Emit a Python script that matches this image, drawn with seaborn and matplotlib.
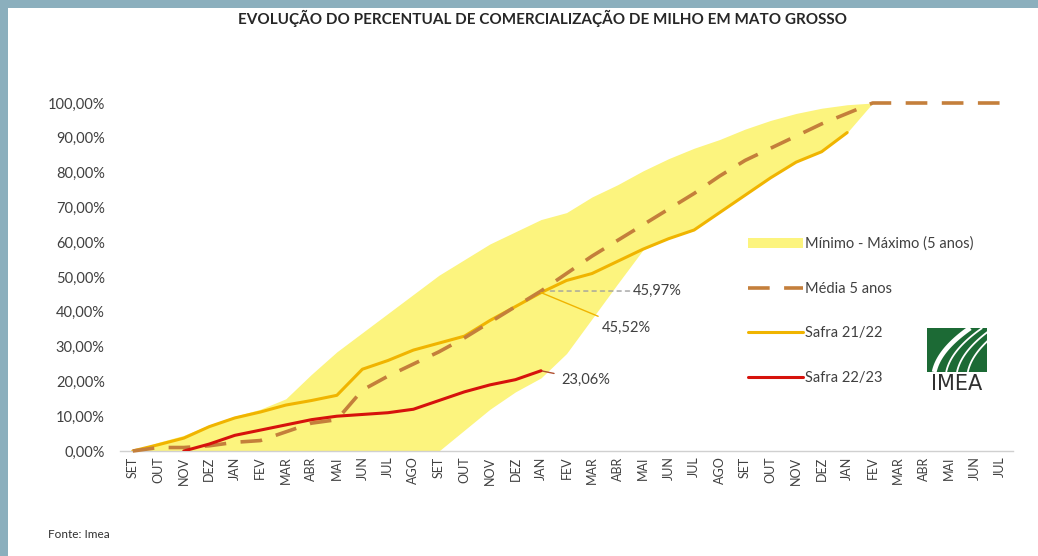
import numpy as np
import pandas as pd
import seaborn as sns
import matplotlib.pyplot as plt
from matplotlib.patches import Rectangle

# months, SET (year 1) to JUL (year 3)
meses = ["SET", "OUT", "NOV", "DEZ", "JAN", "FEV", "MAR", "ABR", "MAI", "JUN", "JUL", "AGO",
         "SET", "OUT", "NOV", "DEZ", "JAN", "FEV", "MAR", "ABR", "MAI", "JUN", "JUL", "AGO",
         "SET", "OUT", "NOV", "DEZ", "JAN", "FEV", "MAR", "ABR", "MAI", "JUN", "JUL"]

# min - max band (5 years)
minimo = [0, 0, 0, 0, 0, 0, 0, 0, 0, 0, 0, 0,
          0, 6, 12, 17, 21, 28, 38, 48, 57.8, 61, 63.5, 68.5,
          73.5, 78.5, 83, 86, 91.5, 100, 100, 100, 100, 100, 100]
maximo = [0, 2.5, 4.5, 7.5, 10, 12, 15, 22, 28.5, 34, 39.5, 45,
          50.5, 55, 59.5, 63, 66.5, 68.5, 73, 76.5, 80.5, 84, 87, 89.5,
          92.5, 95, 97, 98.5, 99.5, 100, 100, 100, 100, 100, 100]

# 5 year average
media = [0, 1, 1, 1.5, 2.5, 3, 5.5, 8, 9, 17.5, 21.5, 25,
         28.5, 32.5, 37, 41.5, 45.97, 51, 56, 60.5, 65, 69.5, 74, 79,
         83.5, 87, 90.5, 94, 97, 100, 100, 100, 100, 100, 100]

# Safra 21/22 (ends JAN)
safra_2122 = [0, 1.8, 3.7, 7, 9.5, 11.2, 13.2, 14.5, 16, 23.5, 26, 29,
              31, 33, 37.5, 41.5, 45.52, 49, 51, 54.5, 58, 61, 63.5, 68.5,
              73.5, 78.5, 83, 86, 91.5]

# Safra 22/23 (starts NOV, ends JAN)
safra_2223 = [0, 2, 4.5, 6, 7.5, 9, 10, 10.5, 11, 12,
              14.5, 17, 19, 20.5, 23.06]

idx = np.arange(len(meses))
df_media = pd.DataFrame({"x": idx, "y": media})
df_21 = pd.DataFrame({"x": idx[:len(safra_2122)], "y": safra_2122})
df_22 = pd.DataFrame({"x": idx[2:2 + len(safra_2223)], "y": safra_2223})

sns.set_theme(style="white")
plt.rcParams['font.family'] = ['Lato', 'DejaVu Sans']

fig = plt.figure(figsize=(10.38, 5.56), dpi=100, facecolor="#8bafbd")
fig.patches.append(Rectangle((8 / 1038, 0), 1, 1 - 8 / 556, transform=fig.transFigure,
                             facecolor="white", edgecolor="none", zorder=-10))

ax = fig.add_axes([120 / 1038, (556 - 451) / 556, 893 / 1038, 348 / 556])
ax.set_facecolor("none")

c_band = "#fcf47e"
c_media = "#c47f3b"
c_21 = "#f0b400"
c_22 = "#d6120c"

ax.fill_between(idx, minimo, maximo, color=c_band, lw=0, label="Mínimo - Máximo (5 anos)", zorder=1)
sns.lineplot(data=df_media, x="x", y="y", ax=ax, color=c_media, lw=2.6, dashes=False,
             label="Média 5 anos", zorder=3, clip_on=False)
ax.lines[-1].set_dashes([6, 4])
sns.lineplot(data=df_21, x="x", y="y", ax=ax, color=c_21, lw=2.2, label="Safra 21/22", zorder=2)
sns.lineplot(data=df_22, x="x", y="y", ax=ax, color=c_22, lw=2.2, label="Safra 22/23", zorder=4)

ax.set_xlim(-0.5, len(meses) - 0.5)
ax.set_ylim(0, 100)
ax.set_xticks(idx)
ax.set_xticklabels(meses, rotation=90, fontsize=9, color="#404040")
yt = np.arange(0, 101, 10)
ax.set_yticks(yt)
ax.set_yticklabels([f"{v:.2f}".replace(".", ",") + "%" for v in yt], fontsize=10.5, color="#404040")
ax.tick_params(axis="y", pad=11, length=0)
ax.tick_params(axis="x", pad=4, length=0)
ax.set_xlabel("")
ax.set_ylabel("")
for s in ["top", "right", "left"]:
    ax.spines[s].set_visible(False)
ax.spines["bottom"].set_color("#d0d0d0")
ax.spines["bottom"].set_linewidth(1)

# annotations at current month (JAN)
cur = 16
ax.annotate("45,97%", xy=(cur, media[cur]), xytext=(cur + 3.6, media[cur]), va="center",
            fontsize=10.5, color="#404040",
            arrowprops=dict(arrowstyle="-", color="#a0a0a0", lw=1, ls=(0, (3, 3)), shrinkA=0, shrinkB=4))
ax.annotate("45,52%", xy=(cur, safra_2122[cur]), xytext=(cur + 2.4, 35.3), va="center",
            fontsize=10.5, color="#404040",
            arrowprops=dict(arrowstyle="-", color=c_21, lw=1, shrinkA=3, shrinkB=0))
ax.annotate("23,06%", xy=(cur, safra_2223[-1]), xytext=(cur + 0.8, 20.4), va="center",
            fontsize=10.5, color="#404040",
            arrowprops=dict(arrowstyle="-", color="#b05030", lw=1, shrinkA=3, shrinkB=0))

leg = ax.legend(loc="upper left", bbox_to_anchor=(742 / 1038, (556 - 231) / 556),
                bbox_transform=fig.transFigure, frameon=False, fontsize=10.5,
                handlelength=3.8, handletextpad=0.15, labelspacing=2.1, borderaxespad=0)
for t in leg.get_texts():
    t.set_color("#404040")

fig.text(0.523, 1 - 18 / 556, "EVOLUÇÃO DO PERCENTUAL DE COMERCIALIZAÇÃO DE MILHO EM MATO GROSSO",
         ha="center", va="center", fontsize=11, fontweight="bold", color="#262626")
fig.text(48 / 1038, 1 - 535 / 556, "Fonte: Imea", ha="left", va="center", fontsize=8.5, color="#303030")

# IMEA logo
lg = fig.add_axes([927 / 1038, (556 - 372) / 556, 60 / 1038, 44 / 556])
lg.set_facecolor("#1c6a35")
lg.set_xlim(0, 1)
lg.set_ylim(0, 1)
lg.set_xticks([])
lg.set_yticks([])
for s in lg.spines.values():
    s.set_visible(False)
tt = np.linspace(0, 1, 50)
for k, off in enumerate([0.12, 0.32, 0.5, 0.68]):
    lg.plot(off + 0.15 * tt + 0.45 * tt ** 2, tt, color="white", lw=3.5 if k == 0 else 1.3,
            solid_capstyle="butt")
fig.text(957 / 1038, 1 - 384 / 556, "IMEA", ha="center", va="center", fontsize=15,
         color="#303030", fontfamily="DejaVu Sans")

fig.savefig("out.png", dpi=100, facecolor=fig.get_facecolor())
